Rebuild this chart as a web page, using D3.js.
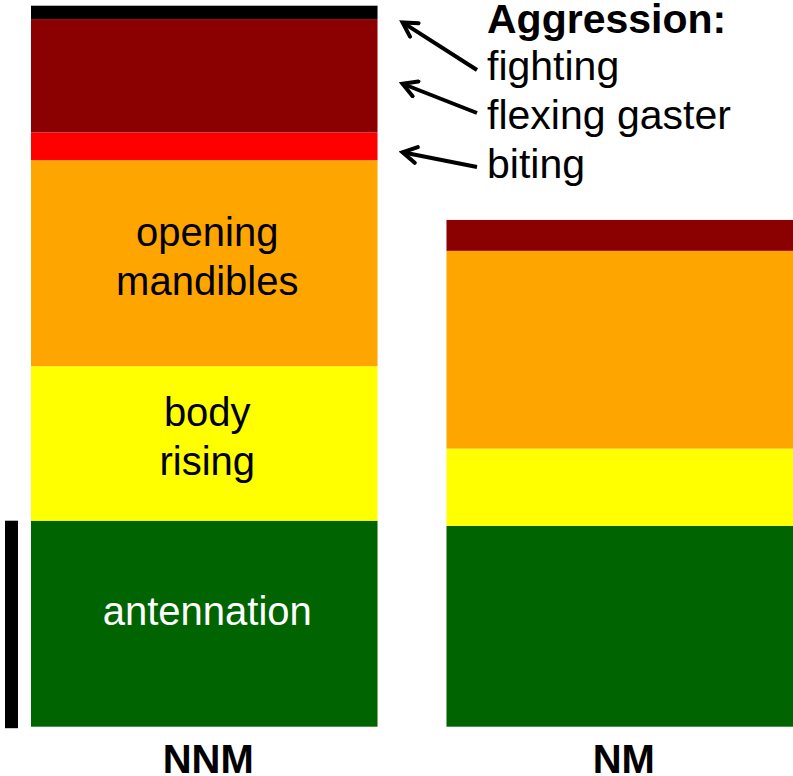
<!DOCTYPE html>
<html>
<head>
<meta charset="utf-8">
<script src="https://cdn.jsdelivr.net/npm/d3@7"></script>
<style>
  body { margin: 0; background: #fff; }
  text { font-family: "Liberation Sans", Arial, sans-serif; }
</style>
</head>
<body>
<script>
var width = 793;
var height = 776;

// data (units: scale bar = 10)
var categories = ["NNM", "NM"];
var behaviours = ["antennation", "body rising", "opening mandibles", "biting", "flexing gaster", "fighting"];
var nnmValues = [10.0, 7.5, 10.0, 1.35, 5.5, 0.65];
var nmValues = [9.75, 3.75, 9.6, 0, 1.5, 0];
var colors = ["#006400", "#ffff00", "#ffa500", "#ff0000", "#8b0000", "#000000"];
var barLabels = [["antennation"], ["body", "rising"], ["opening", "mandibles"], [], [], []];
var scaleBarValue = 10;
var legendTitle = "Aggression:";
var legendItems = ["fighting", "flexing gaster", "biting"];

var rows = categories.map(function(c, i) {
  var row = { category: c };
  var vals = i === 0 ? nnmValues : nmValues;
  behaviours.forEach(function(b, j) { row[b] = vals[j]; });
  return row;
});

var svg = d3.select("body")
  .append("svg")
  .attr("width", width)
  .attr("height", height);

var x = d3.scaleBand()
  .domain(categories)
  .range([31, 793])
  .paddingInner(0.166)
  .paddingOuter(0);

var y = d3.scaleLinear()
  .domain([0, 35])
  .range([726.7, 5.7]);

var color = d3.scaleOrdinal()
  .domain(behaviours)
  .range(colors);

var series = d3.stack().keys(behaviours)(rows);

var layer = svg.selectAll(".layer")
  .data(series)
  .enter()
  .append("g")
  .attr("class", "layer")
  .attr("fill", function(d) { return color(d.key); });

layer.selectAll("rect")
  .data(function(d) { return d; })
  .enter()
  .append("rect")
  .attr("x", function(d) { return x(d.data.category); })
  .attr("width", x.bandwidth())
  .attr("y", function(d) { return y(d[1]); })
  .attr("height", function(d) { return y(d[0]) - y(d[1]); });

// labels inside the NNM bar
var lineOffsets = { 1: [1], 2: [-17, 32] };
series.forEach(function(s, i) {
  var lines = barLabels[i];
  if (!lines.length) return;
  var seg = s[0];
  var mid = (y(seg[0]) + y(seg[1])) / 2;
  var t = svg.append("text")
    .attr("text-anchor", "middle")
    .attr("font-size", "40px")
    .attr("fill", s.key === "antennation" ? "#fff" : "#000");
  lines.forEach(function(l, k) {
    t.append("tspan")
      .attr("x", x("NNM") + x.bandwidth() / 2 + 3)
      .attr("y", mid + lineOffsets[lines.length][k])
      .text(l);
  });
});

// category axis
var xAxis = d3.axisBottom(x).tickSize(0);
var gx = svg.append("g")
  .attr("transform", "translate(0," + y(0) + ")")
  .call(xAxis);
gx.select(".domain").remove();
gx.selectAll("text")
  .attr("y", 46)
  .attr("dy", 0)
  .attr("dx", 4)
  .attr("font-size", "40px")
  .attr("font-weight", "bold")
  .attr("font-family", "Liberation Sans, Arial, sans-serif")
  .attr("fill", "#000");

// scale bar
svg.append("rect")
  .attr("x", 5)
  .attr("width", 13)
  .attr("y", y(scaleBarValue))
  .attr("height", y(0) - y(scaleBarValue) + 1.5)
  .attr("fill", "#000");

// legend with arrows
svg.append("defs").append("marker")
  .attr("id", "head")
  .attr("markerUnits", "userSpaceOnUse")
  .attr("viewBox", "-16 -10 20 20")
  .attr("markerWidth", 20)
  .attr("markerHeight", 20)
  .attr("refX", 0)
  .attr("refY", 0)
  .attr("orient", "auto")
  .append("path")
  .attr("d", "M-14,-8L0,0L-14,8")
  .attr("fill", "none")
  .attr("stroke", "#000")
  .attr("stroke-width", 4)
  .attr("stroke-linecap", "round")
  .attr("stroke-linejoin", "miter");

var legendX = 487;
svg.append("text")
  .attr("x", legendX)
  .attr("y", 33)
  .attr("font-size", "41px")
  .attr("font-weight", "bold")
  .text(legendTitle);

var nnmRight = x("NNM") + x.bandwidth();
var tailY = [70, 113, 167];
var headOff = [10, 8, 6];
legendItems.forEach(function(name, i) {
  var base = 80 + i * 49;
  svg.append("text")
    .attr("x", legendX)
    .attr("y", base)
    .attr("font-size", "41px")
    .text(name);
  var s = series[behaviours.indexOf(name)][0];
  var mid = (y(s[0]) + y(s[1])) / 2;
  svg.append("line")
    .attr("x1", legendX - 10)
    .attr("y1", tailY[i])
    .attr("x2", nnmRight + 25)
    .attr("y2", mid + headOff[i])
    .attr("stroke", "#000")
    .attr("stroke-width", 4)
    .attr("marker-end", "url(#head)");
});
</script>
</body>
</html>
